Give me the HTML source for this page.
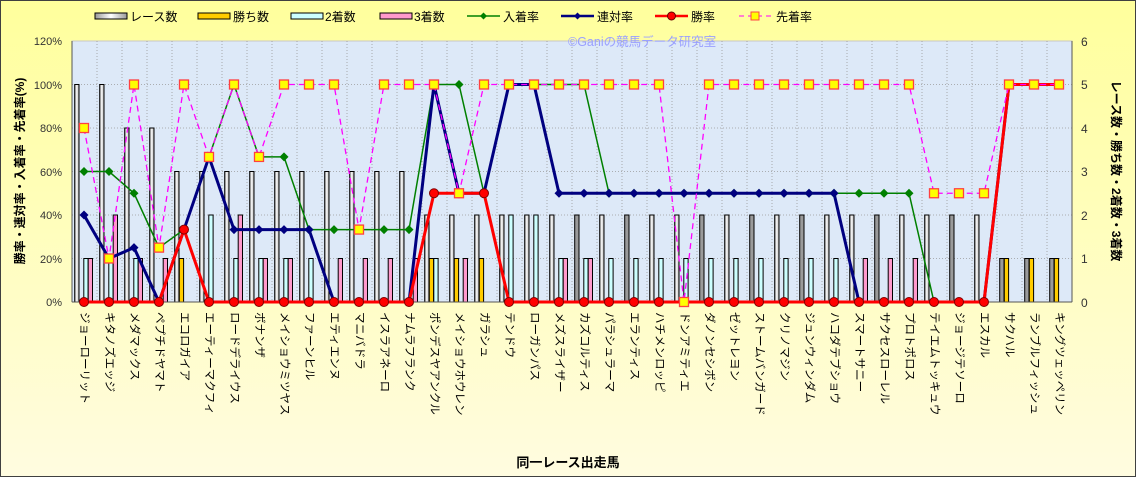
<!DOCTYPE html>
<html><head><meta charset="utf-8"><style>
body{margin:0;background:#fff}
svg{display:block;font-family:"Liberation Sans","Noto Sans CJK JP",sans-serif}
</style></head><body>
<svg id="s" width="1136" height="477" xmlns="http://www.w3.org/2000/svg">
<defs>
<linearGradient id="bg" x1="0" y1="0" x2="0" y2="1"><stop offset="0" stop-color="#ffff9c"/><stop offset="1" stop-color="#fffce0"/></linearGradient>
<linearGradient id="rb" x1="0" y1="0" x2="1" y2="0"><stop offset="0" stop-color="#999"/><stop offset="0.5" stop-color="#fff"/><stop offset="1" stop-color="#999"/></linearGradient>
</defs>
<rect x="0.5" y="0.5" width="1135" height="476" fill="url(#bg)" stroke="#404040"/>
<rect x="72" y="41" width="1000" height="261" fill="#dde9f8" stroke="#c8c8c8"/>
<g id="grid"></g>
<g id="bars"></g>
<line x1="72" y1="41" x2="72" y2="302" stroke="#555"/>
<line x1="1072" y1="41" x2="1072" y2="302" stroke="#555"/>
<line x1="72" y1="302" x2="1072" y2="302" stroke="#555"/>
<text x="568" y="46" font-size="12.5" fill="#9aa0ff">©Ganiの競馬データ研究室</text>
<g id="lines"></g>
<g font-size="12" fill="#000">
<rect x="95" y="13" width="32" height="6" fill="url(#rb)" stroke="#000"/><text x="130" y="21">レース数</text>
<rect x="198" y="13" width="32" height="6" fill="#ffcc00" stroke="#000"/><text x="233" y="21">勝ち数</text>
<rect x="291" y="13" width="32" height="6" fill="#ccffff" stroke="#000"/><text x="325" y="21">2着数</text>
<rect x="380" y="13" width="32" height="6" fill="#ff99cc" stroke="#000"/><text x="414" y="21">3着数</text>
<line x1="467" y1="16" x2="500" y2="16" stroke="#008000" stroke-width="1.5"/><path d="M483.5 12.5l3.5 3.5-3.5 3.5-3.5-3.5z" fill="#008000"/><text x="503" y="21">入着率</text>
<line x1="561" y1="16" x2="594" y2="16" stroke="#000080" stroke-width="2.5"/><path d="M577.5 12.5l3.5 3.5-3.5 3.5-3.5-3.5z" fill="#000080"/><text x="597" y="21">連対率</text>
<line x1="655" y1="16" x2="688" y2="16" stroke="#ff0000" stroke-width="2.5"/><circle cx="671.5" cy="16" r="4" fill="#f00" stroke="#600"/><text x="691" y="21">勝率</text>
<line x1="739" y1="16" x2="772" y2="16" stroke="#ff00ff" stroke-dasharray="5,4"/><rect x="751" y="12" width="8" height="8" fill="#ff0" stroke="#f44"/><text x="776" y="21">先着率</text>
</g>
<g font-size="11" fill="#333" text-anchor="end">
<text x="62" y="45">120%</text><text x="62" y="89">100%</text><text x="62" y="132">80%</text><text x="62" y="176">60%</text><text x="62" y="219">40%</text><text x="62" y="263">20%</text><text x="62" y="306">0%</text>
</g>
<g font-size="12" fill="#333">
<text x="1081" y="46">6</text><text x="1081" y="89">5</text><text x="1081" y="133">4</text><text x="1081" y="176">3</text><text x="1081" y="220">2</text><text x="1081" y="263">1</text><text x="1081" y="307">0</text>
</g>
<text transform="translate(24,171) rotate(-90)" text-anchor="middle" font-size="12" font-weight="bold">勝率・連対率・入着率・先着率(%)</text>
<text transform="translate(1112,171) rotate(90)" text-anchor="middle" font-size="12" font-weight="bold">レース数・勝ち数・2着数・3着数</text>
<text x="568" y="467" text-anchor="middle" font-size="13" font-weight="bold">同一レース出走馬</text>
<g font-size="11.5" fill="#000" dominant-baseline="central">
<text transform="translate(84,312) rotate(90)">ジョーローリット</text>
<text transform="translate(109,312) rotate(90)">キタノズエッジ</text>
<text transform="translate(134,312) rotate(90)">メダマックス</text>
<text transform="translate(159,312) rotate(90)">ペプチドヤマト</text>
<text transform="translate(184,312) rotate(90)">エコロガイア</text>
<text transform="translate(209,312) rotate(90)">エーティーマクフィ</text>
<text transform="translate(234,312) rotate(90)">ロードデライウス</text>
<text transform="translate(259,312) rotate(90)">ボナンザ</text>
<text transform="translate(284,312) rotate(90)">メイショウミツヤス</text>
<text transform="translate(309,312) rotate(90)">ファーンヒル</text>
<text transform="translate(334,312) rotate(90)">エティエンヌ</text>
<text transform="translate(359,312) rotate(90)">マニバドラ</text>
<text transform="translate(384,312) rotate(90)">イスラアネーロ</text>
<text transform="translate(409,312) rotate(90)">ナムラフランク</text>
<text transform="translate(434,312) rotate(90)">ポンデスヤアンクル</text>
<text transform="translate(459,312) rotate(90)">メイショウホウレン</text>
<text transform="translate(484,312) rotate(90)">ガラシュ</text>
<text transform="translate(509,312) rotate(90)">テンドウ</text>
<text transform="translate(534,312) rotate(90)">ローガンパス</text>
<text transform="translate(559,312) rotate(90)">メズスライザー</text>
<text transform="translate(584,312) rotate(90)">カズコルティス</text>
<text transform="translate(609,312) rotate(90)">パラシュラーマ</text>
<text transform="translate(634,312) rotate(90)">エランティス</text>
<text transform="translate(659,312) rotate(90)">ハチメンロッピ</text>
<text transform="translate(684,312) rotate(90)">ドンアミティエ</text>
<text transform="translate(709,312) rotate(90)">ダノンセシボン</text>
<text transform="translate(734,312) rotate(90)">ゼットレヨン</text>
<text transform="translate(759,312) rotate(90)">ストームバンガード</text>
<text transform="translate(784,312) rotate(90)">クリノマジン</text>
<text transform="translate(809,312) rotate(90)">ジュンウィンダム</text>
<text transform="translate(834,312) rotate(90)">ハコダテブショウ</text>
<text transform="translate(859,312) rotate(90)">スマートサニー</text>
<text transform="translate(884,312) rotate(90)">サクセスローレル</text>
<text transform="translate(909,312) rotate(90)">プロトポロス</text>
<text transform="translate(934,312) rotate(90)">テイエムトッキュウ</text>
<text transform="translate(959,312) rotate(90)">ジョージテソーロ</text>
<text transform="translate(984,312) rotate(90)">エスカル</text>
<text transform="translate(1009,312) rotate(90)">サクハル</text>
<text transform="translate(1034,312) rotate(90)">ランブルフィッシュ</text>
<text transform="translate(1059,312) rotate(90)">キングツェッペリン</text>
</g>
</svg>
<script>
var NS="http://www.w3.org/2000/svg";
function el(p,t,a){var e=document.createElementNS(NS,t);for(var k in a)e.setAttribute(k,a[k]);document.getElementById(p).appendChild(e);return e;}
for(var i=1;i<40;i++){var x=72+25*i;el("grid","line",{x1:x,y1:41,x2:x,y2:302,stroke:"#999","stroke-dasharray":"1,2","stroke-width":0.8});}
for(var j=1;j<6;j++){var y=302-43.5*j;el("grid","line",{x1:72,y1:y,x2:1072,y2:y,stroke:"#999","stroke-dasharray":"1,2","stroke-width":0.8});}
var R=[5,5,4,4,3,3,3,3,3,3,3,3,3,3,2,2,2,2,2,2,2,2,2,2,2,2,2,2,2,2,2,2,2,2,2,2,2,1,1,1];
var W=[0,0,0,0,1,0,0,0,0,0,0,0,0,0,1,1,1,0,0,0,0,0,0,0,0,0,0,0,0,0,0,0,0,0,0,0,0,1,1,1];
var S=[1,1,1,0,0,2,1,1,1,1,0,0,0,0,1,0,0,2,2,1,1,1,1,1,1,1,1,1,1,1,1,0,0,0,0,0,0,0,0,0];
var T=[1,2,1,1,0,0,2,1,1,0,1,1,1,1,0,1,0,0,0,1,1,0,0,0,0,0,0,0,0,0,0,1,1,1,0,0,0,0,0,0];
var G={20:1,22:1,25:1,27:1,29:1,32:1,35:1,37:1,38:1,39:1};
var WIN=[0,0,0,0,33.3,0,0,0,0,0,0,0,0,0,50,50,50,0,0,0,0,0,0,0,0,0,0,0,0,0,0,0,0,0,0,0,0,100,100,100];
var REN=[40,20,25,0,33.3,66.7,33.3,33.3,33.3,33.3,0,0,0,0,100,50,50,100,100,50,50,50,50,50,50,50,50,50,50,50,50,0,0,0,0,0,0,100,100,100];
var IRI=[60,60,50,25,33.3,66.7,100,66.7,66.7,33.3,33.3,33.3,33.3,33.3,100,100,50,100,100,100,100,50,50,50,50,50,50,50,50,50,50,50,50,50,0,0,0,100,100,100];
var SEN=[80,20,100,25,100,66.7,100,66.7,100,100,100,33.3,100,100,100,50,100,100,100,100,100,100,100,100,0,100,100,100,100,100,100,100,100,100,50,50,50,100,100,100];
function bar(x,v,f){if(v<=0)return;el("bars","rect",{x:x,y:302-43.5*v,width:4.3,height:43.5*v,fill:f,stroke:"#000","stroke-width":1});}
for(var i=0;i<40;i++){var b=72+25*i;
bar(b+2.7,R[i],G[i]?"#9a9a9a":"url(#rb)");bar(b+7.3,W[i],"#ffcc00");bar(b+11.8,S[i],"#ccffff");bar(b+16.2,T[i],"#ff99cc");}
function Y(p){return 302-p*43.5/20;}
function pts(a){return a.map(function(v,i){return (84+25*i)+","+Y(v)}).join(" ");}
el("lines","polyline",{points:pts(IRI),fill:"none",stroke:"#008000","stroke-width":1.5});
el("lines","polyline",{points:pts(REN),fill:"none",stroke:"#000080","stroke-width":3});
el("lines","polyline",{points:pts(WIN),fill:"none",stroke:"#ff0000","stroke-width":3});
el("lines","polyline",{points:pts(SEN),fill:"none",stroke:"#ff00ff","stroke-width":1.3,"stroke-dasharray":"6,4"});
for(var i=0;i<40;i++){var x=84+25*i;
var y=Y(IRI[i]);el("lines","path",{d:"M"+x+" "+(y-4.5)+"l4.5 4.5-4.5 4.5-4.5-4.5z",fill:"#008000"});
y=Y(REN[i]);el("lines","path",{d:"M"+x+" "+(y-4.5)+"l4.5 4.5-4.5 4.5-4.5-4.5z",fill:"#000080"});
y=Y(WIN[i]);el("lines","circle",{cx:x,cy:y,r:4.5,fill:"#ff0000",stroke:"#800000"});
y=Y(SEN[i]);el("lines","rect",{x:x-4.5,y:y-4.5,width:9,height:9,fill:"#ffff00",stroke:"#ff4040","stroke-width":1.3});}
</script>
</body></html>
